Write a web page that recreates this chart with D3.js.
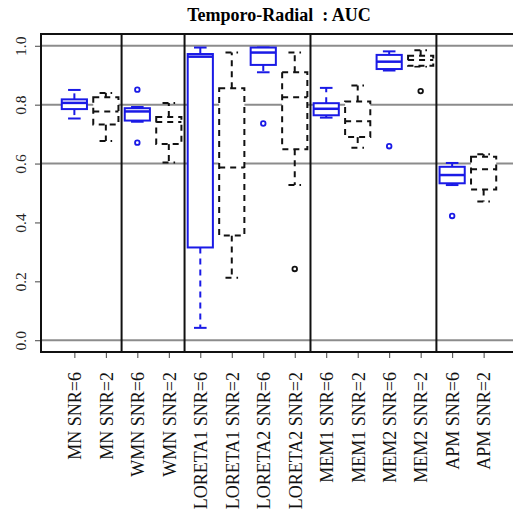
<!doctype html>
<html lang="en">
<head>
<meta charset="utf-8">
<title>Temporo-Radial : AUC</title>
<style>
  body { margin: 0; background: #fff; }
  svg { display: block; font-family: "Liberation Serif", "Times New Roman", serif; }
</style>
</head>
<body>
<div id="chart"></div>
<script src="https://d3js.org/d3.v7.min.js"></script>
<script>
// box statistics
var labels = ["MN SNR=6", "MN SNR=2", "WMN SNR=6", "WMN SNR=2",
  "LORETA1 SNR=6", "LORETA1 SNR=2", "LORETA2 SNR=6", "LORETA2 SNR=2",
  "MEM1 SNR=6", "MEM1 SNR=2", "MEM2 SNR=6", "MEM2 SNR=2", "APM SNR=6", "APM SNR=2"];
var whiskLo = [0.753, 0.677, 0.742, 0.604, 0.042, 0.212, 0.910, 0.527, 0.756, 0.654, 0.916, 0.930, 0.527, 0.471];
var q1      = [0.785, 0.733, 0.746, 0.666, 0.315, 0.356, 0.935, 0.649, 0.764, 0.690, 0.921, 0.932, 0.533, 0.512];
var median  = [0.806, 0.777, 0.777, 0.741, 0.963, 0.587, 0.977, 0.825, 0.786, 0.744, 0.946, 0.952, 0.561, 0.581];
var q3      = [0.818, 0.825, 0.788, 0.758, 0.972, 0.856, 0.994, 0.910, 0.805, 0.811, 0.969, 0.966, 0.589, 0.623];
var whiskHi = [0.850, 0.840, 0.792, 0.806, 0.994, 0.977, 0.994, 0.977, 0.857, 0.865, 0.981, 0.985, 0.602, 0.632];
var outliers = [[], [], [0.851, 0.671], [], [], [], [0.736], [0.242], [], [], [0.659], [0.846], [0.422], []];
var snr = ["6", "2", "6", "2", "6", "2", "6", "2", "6", "2", "6", "2", "6", "2"];
var groupBreaks = [2.5, 4.5, 8.5, 12.5];
var refLines = [0, 0.6, 0.8, 1.0];
var yTicks = [0, 0.2, 0.4, 0.6, 0.8, 1.0];

var W = 513, H = 512;
var pLeft = 41, pRight = 517, pTop = 34, pBottom = 352;
var blue = "#1a1ae6";

var svg = d3.select("#chart").append("svg")
  .attr("width", W).attr("height", H);

var x = d3.scaleLinear().domain([0.5 - 0.56, labels.length + 0.5 + 0.56]).range([pLeft, pRight]);
var y = d3.scaleLinear().domain([-0.04, 1.04]).range([pBottom, pTop]);
var step = x(2) - x(1);
var boxW = step * 0.8;

// title
svg.append("text")
  .attr("x", (pLeft + pRight) / 2).attr("y", 21)
  .attr("text-anchor", "middle")
  .style("font-weight", "bold").style("font-size", "18px")
  .style("white-space", "pre")
  .text("Temporo-Radial  : AUC");

// reference lines
svg.selectAll(".ref").data(refLines).enter().append("line")
  .attr("x1", pLeft).attr("x2", pRight)
  .attr("y1", d => y(d)).attr("y2", d => y(d))
  .attr("stroke", "#8c8c8c").attr("stroke-width", 2);

// group separators
svg.selectAll(".sep").data(groupBreaks).enter().append("line")
  .attr("x1", d => x(d)).attr("x2", d => x(d))
  .attr("y1", pTop).attr("y2", pBottom)
  .attr("stroke", "#111").attr("stroke-width", 2);

// y axis
var yAxis = svg.append("g").attr("transform", "translate(" + pLeft + ",0)")
  .call(d3.axisLeft(y).tickValues(yTicks).tickSize(6).tickFormat(d3.format(".1f")));
yAxis.select(".domain").remove();
yAxis.selectAll(".tick line").attr("stroke", "#444");
yAxis.selectAll(".tick text")
  .attr("x", null).attr("dy", null)
  .attr("text-anchor", "middle")
  .attr("transform", "translate(-15,0) rotate(-90)")
  .style("font-size", "15.5px").style("font-family", "Liberation Serif, serif").attr("fill", "#222");

// x axis
var idx = d3.range(1, labels.length + 1);
var xAxis = svg.append("g").attr("transform", "translate(0," + pBottom + ")")
  .call(d3.axisBottom(x).tickValues(idx).tickSize(6).tickFormat(i => labels[i - 1]));
xAxis.select(".domain").remove();
xAxis.selectAll(".tick line").attr("stroke", "#444");
xAxis.selectAll(".tick text")
  .attr("y", null).attr("dy", "0.35em")
  .attr("text-anchor", "end")
  .attr("transform", "translate(0,20) rotate(-90)")
  .style("font-size", "18px").style("font-family", "Liberation Serif, serif").attr("fill", "#111");

// boxes
svg.selectAll(".box").data(idx).enter().append("g")
  .each(function(i) {
    var g = d3.select(this);
    var k = i - 1;
    var isSix = snr[k] === "6";
    var col = isSix ? blue : "#111";
    var dash = isSix ? null : "6,5";
    var cx = x(i);

    // whiskers (dashed)
    g.append("line").attr("x1", cx).attr("x2", cx)
      .attr("y1", y(q3[k])).attr("y2", y(whiskHi[k]))
      .attr("stroke", col).attr("stroke-width", 2).attr("stroke-dasharray", "6,5");
    g.append("line").attr("x1", cx).attr("x2", cx)
      .attr("y1", y(q1[k])).attr("y2", y(whiskLo[k]))
      .attr("stroke", col).attr("stroke-width", 2).attr("stroke-dasharray", "6,5");
    // staples
    [whiskHi[k], whiskLo[k]].forEach(function(v) {
      g.append("line").attr("x1", cx - boxW / 4).attr("x2", cx + boxW / 4)
        .attr("y1", y(v)).attr("y2", y(v))
        .attr("stroke", col).attr("stroke-width", 2).attr("stroke-dasharray", dash);
    });
    // box
    g.append("rect")
      .attr("x", cx - boxW / 2).attr("width", boxW)
      .attr("y", y(q3[k])).attr("height", y(q1[k]) - y(q3[k]))
      .attr("fill", "#fff").attr("stroke", col).attr("stroke-width", 2)
      .attr("stroke-dasharray", dash);
    // median
    g.append("line").attr("x1", cx - boxW / 2).attr("x2", cx + boxW / 2)
      .attr("y1", y(median[k])).attr("y2", y(median[k]))
      .attr("stroke", col).attr("stroke-width", isSix ? 2.5 : 2).attr("stroke-dasharray", dash);
    // outliers
    g.selectAll("circle").data(outliers[k]).enter().append("circle")
      .attr("cx", cx).attr("cy", d => y(d)).attr("r", 2.3)
      .attr("fill", "none").attr("stroke", col).attr("stroke-width", 1.8);
  });

// plot frame
svg.append("rect")
  .attr("x", pLeft).attr("y", pTop)
  .attr("width", pRight - pLeft).attr("height", pBottom - pTop)
  .attr("fill", "none").attr("stroke", "#111").attr("stroke-width", 2);
</script>
</body>
</html>
